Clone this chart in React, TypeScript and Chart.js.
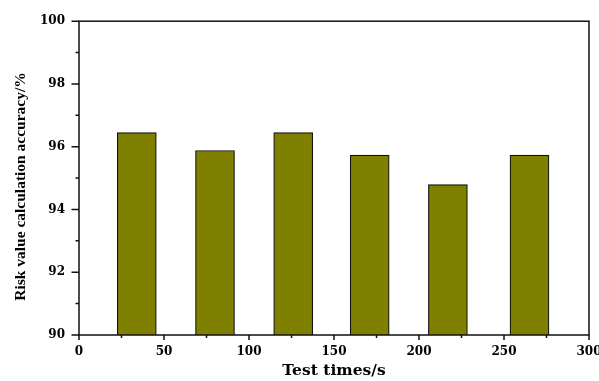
import React, { useEffect, useRef } from "react";
import { Chart, registerables } from "chart.js";

Chart.register(...registerables);

const testTimes = [34, 80, 126, 171, 217, 265];
const accuracy = [96.45, 95.88, 96.45, 95.73, 94.79, 95.73];
const xMajorTicks = [0, 50, 100, 150, 200, 250, 300];
const xMinorTicks = [25, 75, 125, 175, 225, 275];
const yMajorTicks = [90, 92, 94, 96, 98, 100];
const yMinorTicks = [91, 93, 95, 97, 99];
const xTitle = "Test times/s";
const yTitle = "Risk value calculation accuracy/%";

const framePlugin = {
  id: "frameAndTicks",
  afterDraw(chart: any) {
    const { ctx, chartArea: a, scales } = chart;
    const x = scales.x;
    const y = scales.y;
    ctx.save();
    ctx.strokeStyle = "#111";
    ctx.lineWidth = 1.5;
    ctx.strokeRect(a.left, a.top, a.right - a.left, a.bottom - a.top);
    ctx.beginPath();
    for (const v of yMajorTicks) {
      const py = y.getPixelForValue(v);
      ctx.moveTo(a.left - 7.5, py);
      ctx.lineTo(a.left, py);
    }
    for (const v of yMinorTicks) {
      const py = y.getPixelForValue(v);
      ctx.moveTo(a.left - 3.5, py);
      ctx.lineTo(a.left, py);
    }
    for (const v of xMajorTicks) {
      const px = x.getPixelForValue(v);
      ctx.moveTo(px, a.bottom);
      ctx.lineTo(px, a.bottom + 5);
    }
    for (const v of xMinorTicks) {
      const px = x.getPixelForValue(v);
      ctx.moveTo(px, a.bottom);
      ctx.lineTo(px, a.bottom + 3);
    }
    ctx.stroke();
    // y-axis title
    ctx.translate(20.5, 186.5);
    ctx.rotate(-Math.PI / 2);
    ctx.font = 'bold 15.5px "Liberation Serif"';
    ctx.fillStyle = "#000";
    ctx.textAlign = "center";
    ctx.textBaseline = "middle";
    ctx.fillText(yTitle, 0, 0);
    ctx.restore();
  },
};

export default function App() {
  const canvasRef = useRef<HTMLCanvasElement | null>(null);

  useEffect(() => {
    const canvas = canvasRef.current;
    if (!canvas) return;
    const tickFont = { family: "'DejaVu Serif'", weight: "bold" as const, size: 12 };
    const chart = new Chart(canvas, {
      type: "bar",
      data: {
        datasets: [
          {
            data: testTimes.map((t, i) => ({ x: t, y: accuracy[i] })),
            backgroundColor: "#808000",
            borderColor: "#111",
            borderWidth: 1.2,
            barThickness: 39,
          },
        ],
      },
      options: {
        responsive: false,
        animation: false,
        events: [],
        layout: { padding: { left: 0, top: 18.5, right: 31, bottom: 0 } },
        plugins: { legend: { display: false }, tooltip: { enabled: false } },
        scales: {
          x: {
            type: "linear",
            min: 0,
            max: 300,
            offset: false,
            grid: { display: false, drawTicks: false },
            border: { display: false },
            ticks: {
              stepSize: 50,
              padding: 10,
              color: "#000",
              font: tickFont,
              maxRotation: 0,
            },
            title: {
              display: true,
              text: xTitle,
              color: "#000",
              font: { family: "'DejaVu Serif'", weight: "bold", size: 15.5 },
              padding: { top: 0, bottom: 1 },
            },
            afterFit: (scale: any) => {
              scale.height = 46;
            },
          },
          y: {
            type: "linear",
            min: 90,
            max: 100,
            grid: { display: false, drawTicks: false },
            border: { display: false },
            ticks: {
              stepSize: 2,
              padding: 14,
              color: "#000",
              font: tickFont,
            },
            afterFit: (scale: any) => {
              scale.width = 79;
            },
          },
        },
      },
      plugins: [framePlugin],
    });
    return () => chart.destroy();
  }, []);

  return (
    <div
      style={{
        position: "absolute",
        left: 0,
        top: 0,
        width: 599,
        height: 381,
        overflow: "hidden",
        background: "#fff",
      }}
    >
      <canvas ref={canvasRef} width={620} height={381} style={{ width: 620, height: 381, display: "block" }} />
    </div>
  );
}
